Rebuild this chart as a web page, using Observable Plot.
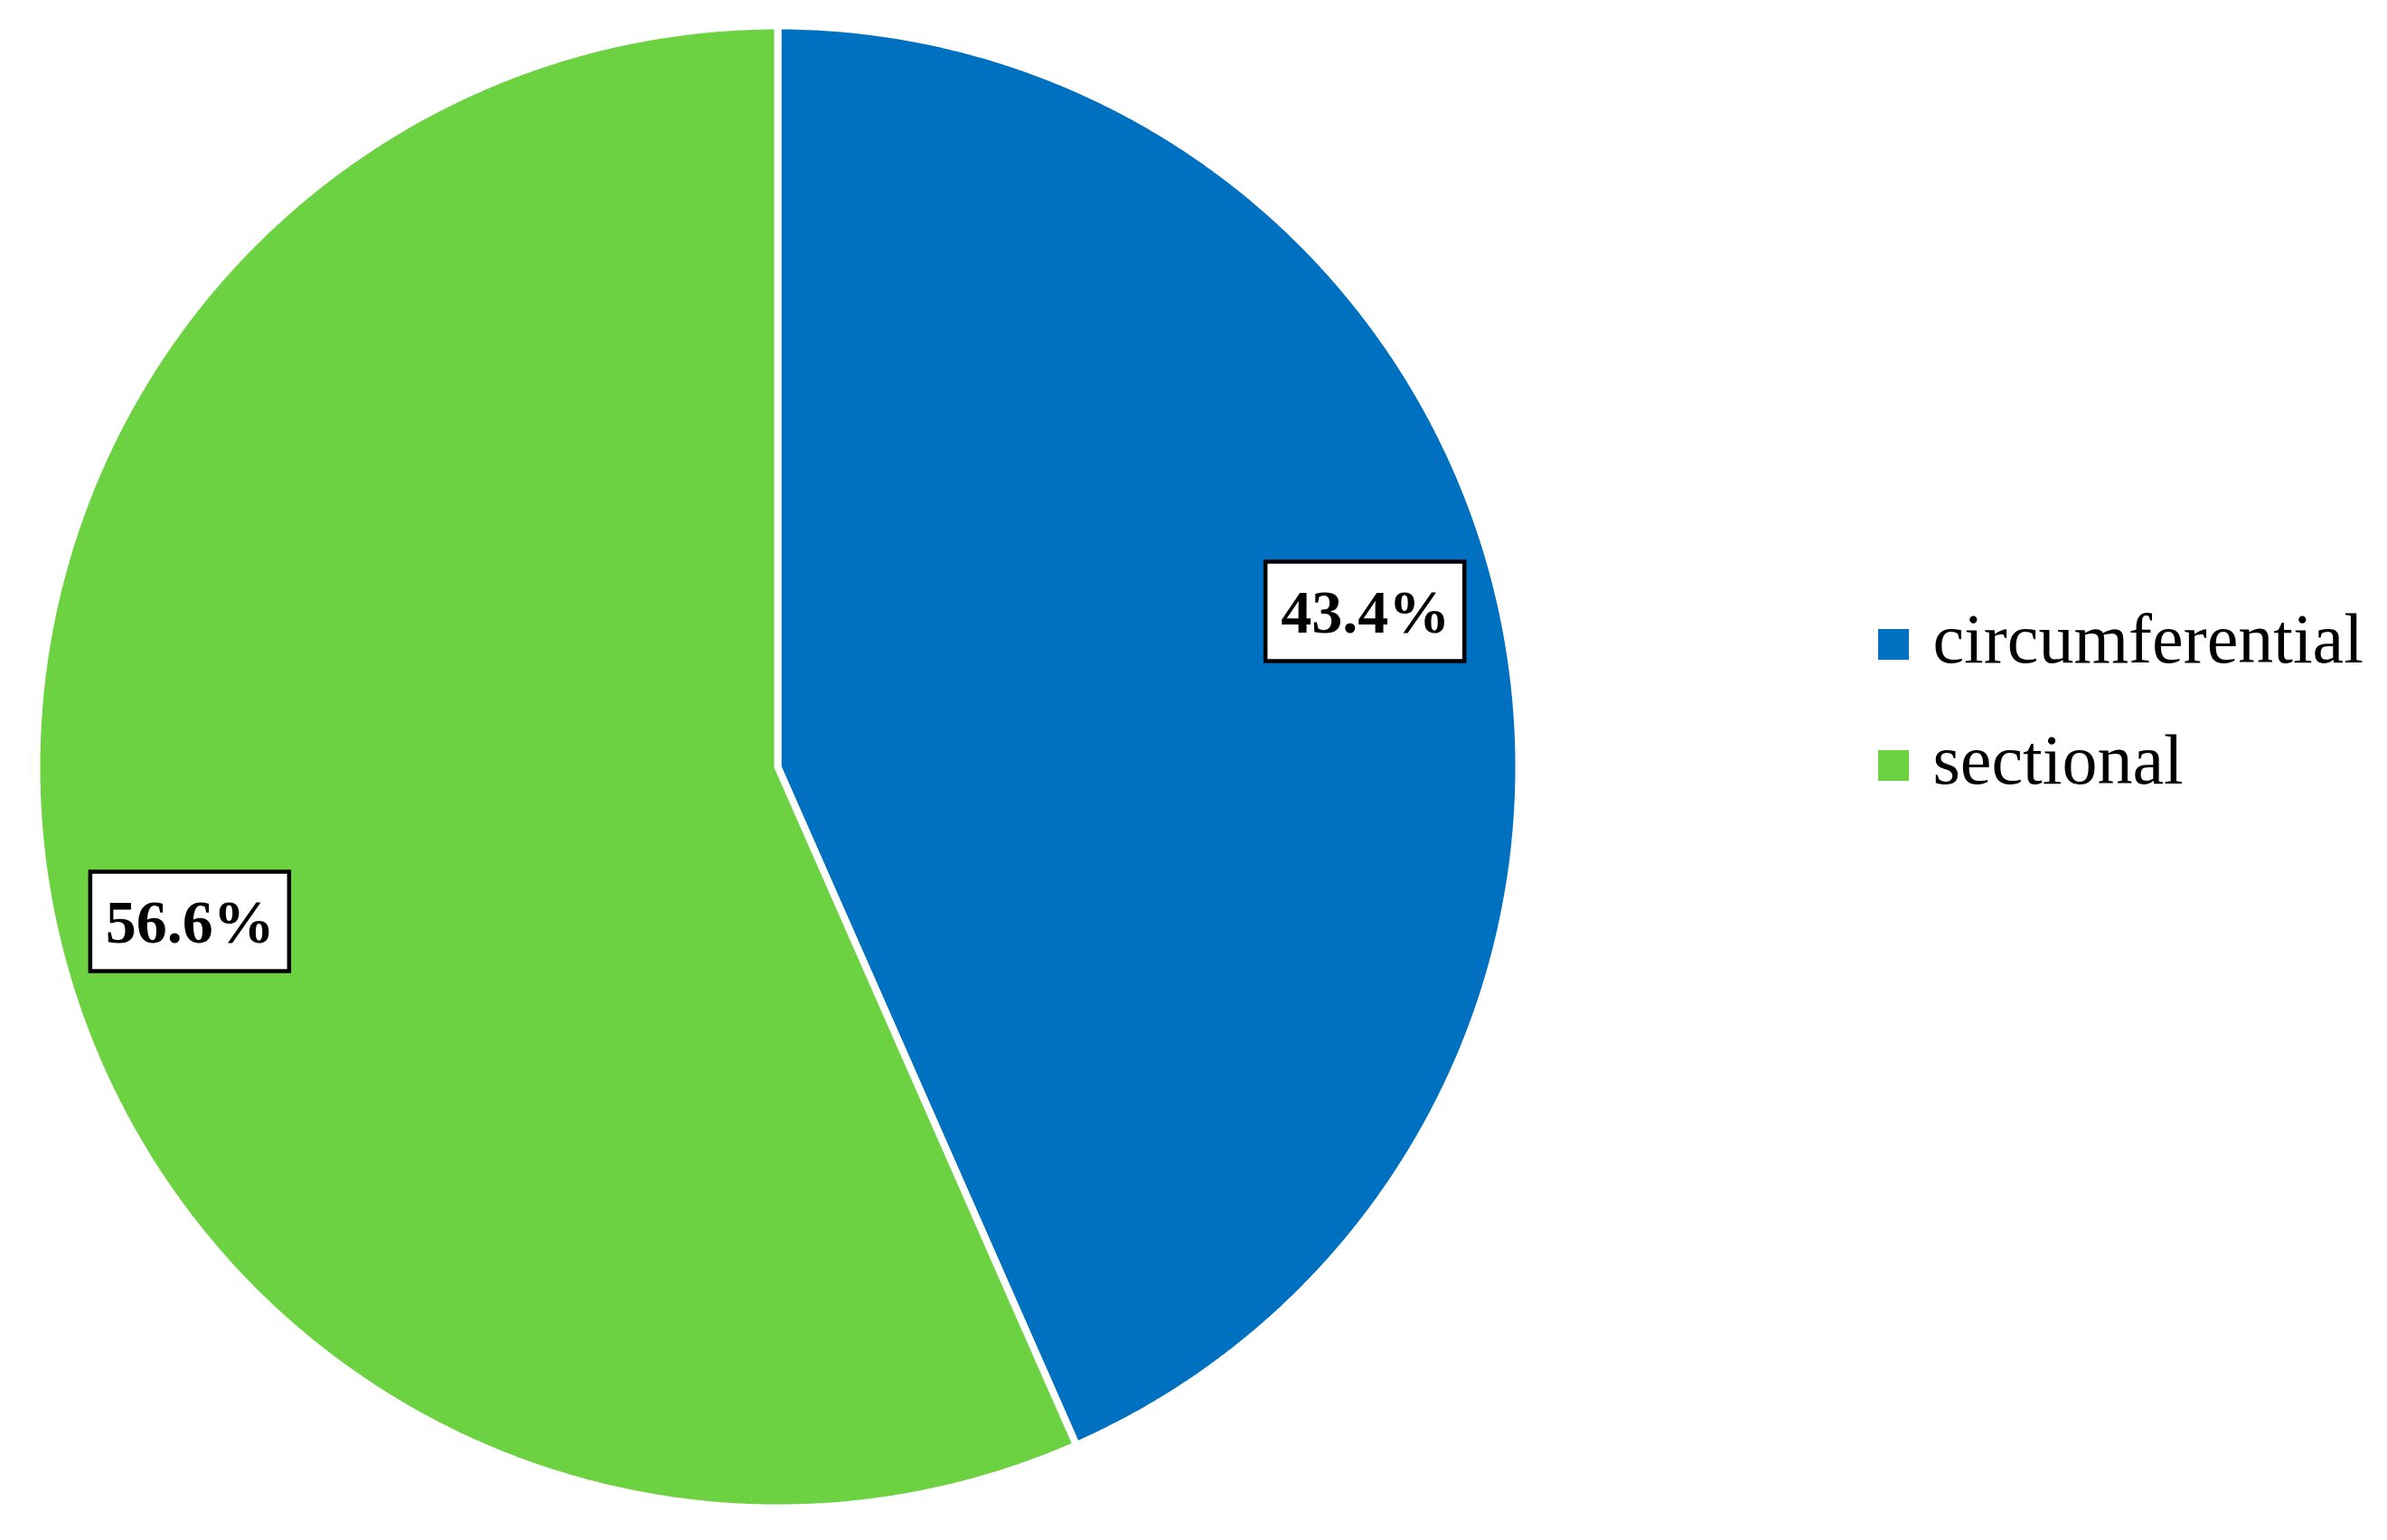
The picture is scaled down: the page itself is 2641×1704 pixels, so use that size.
<!DOCTYPE html>
<html><head><meta charset="utf-8">
<script src="https://cdn.jsdelivr.net/npm/d3@7"></script>
<script src="https://cdn.jsdelivr.net/npm/@observablehq/plot@0.6"></script>
<style>html,body{margin:0;padding:0;background:#fff;} svg{display:block}</style>
</head><body><div id="chart"></div>
<script>
// ---- data ----
const categories = ["circumferential", "sectional"];
const shares = [43.4, 56.6];
const labels = ["43.4%", "56.6%"];
const colors = ["#0070C0", "#6CD241"];

// ---- layout ----
const W = 2641, H = 1704;
const cx = 860, cy = 848, R = 820;          // pie centre / radius (px)
const toX = px => (px - cx) / R, toY = py => (cy - py) / R;

const rows = categories.map((c, i) => ({category: c, value: shares[i], label: labels[i]}));
const arcs = d3.pie().sort(null).value(d => d.value)(rows);

// slice outlines (unit circle, angle 0 at 12 o'clock, clockwise)
const slicePts = [];
for (const a of arcs) {
  const n = Math.max(2, Math.ceil((a.endAngle - a.startAngle) / (Math.PI / 720)));
  slicePts.push({category: a.data.category, x: 0, y: 0});
  for (let k = 0; k <= n; k++) {
    const t = a.startAngle + (a.endAngle - a.startAngle) * k / n;
    slicePts.push({category: a.data.category, x: Math.sin(t), y: Math.cos(t)});
  }
  slicePts.push({category: a.data.category, x: 0, y: 0});
}

// data labels
const labelR = 0.82, labelShift = -2.9 * Math.PI / 180;
const labelPts = arcs.map(a => {
  const t = (a.startAngle + a.endAngle) / 2 + labelShift;
  return {label: a.data.label, x: labelR * Math.sin(t), y: labelR * Math.cos(t)};
});

// legend
const legendPts = categories.map((c, i) => ({category: c, x: toX(2095), y: toY(713 + i * 134), tx: toX(2138)}));

const plot = Plot.plot({
  width: W, height: H, margin: 0,
  x: {axis: null, domain: [-1, 1], range: [cx - R, cx + R]},
  y: {axis: null, domain: [-1, 1], range: [cy + R, cy - R]},
  color: {domain: categories, range: colors},
  style: {background: "white", fontFamily: "'Liberation Serif', serif"},
  marks: [
    Plot.line(slicePts, {x: "x", y: "y", z: "category", fill: "category", stroke: "white", strokeWidth: 8, strokeLinejoin: "miter"}),
    Plot.rect(labelPts, {x1: "x", x2: "x", y1: "y", y2: "y", insetLeft: -110, insetRight: -110, insetTop: -55, insetBottom: -55, fill: "white", stroke: "black", strokeWidth: 4.5}),
    Plot.text(labelPts, {x: "x", y: "y", text: "label", fontSize: 68, fontWeight: "bold", fill: "black", dy: 1, fontFamily: "'Liberation Serif', serif"}),
    Plot.rect(legendPts, {x1: "x", x2: "x", y1: "y", y2: "y", insetLeft: -17, insetRight: -17, insetTop: -17, insetBottom: -17, fill: "category"}),
    Plot.text(legendPts, {x: "tx", y: "y", text: "category", textAnchor: "start", fontSize: 78, dy: -5, fill: "black", fontFamily: "'Liberation Serif', serif"})
  ]
});
document.getElementById("chart").appendChild(plot);
</script>
</body></html>
